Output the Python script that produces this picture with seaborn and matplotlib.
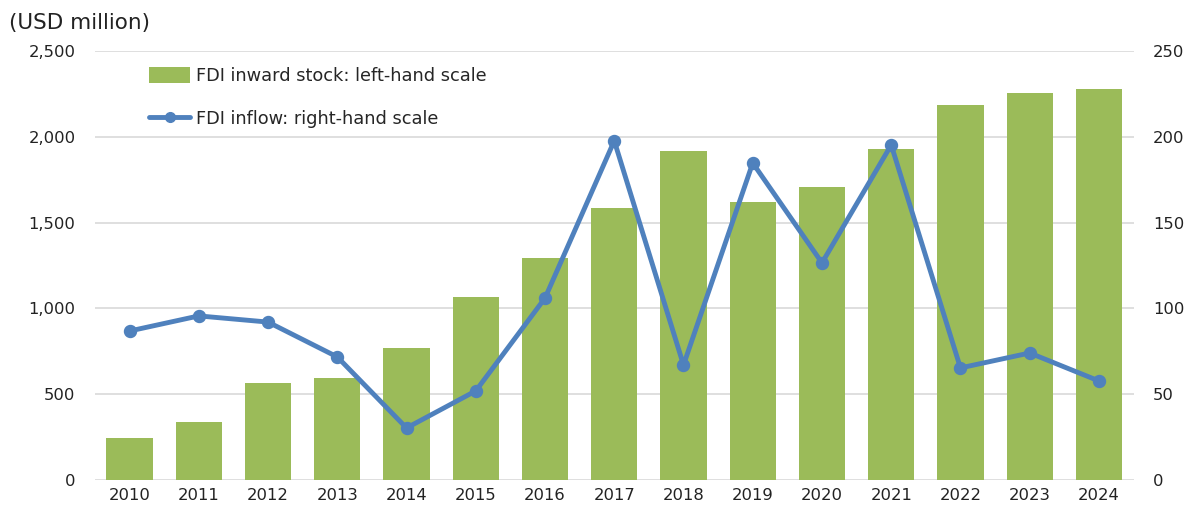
import matplotlib
matplotlib.use("Agg")
import matplotlib.pyplot as plt
import seaborn as sns
import pandas as pd
from matplotlib.patches import Patch
from matplotlib.lines import Line2D
from matplotlib.ticker import FuncFormatter, MultipleLocator

# data
years = ["2010", "2011", "2012", "2013", "2014", "2015", "2016", "2017",
         "2018", "2019", "2020", "2021", "2022", "2023", "2024"]
inward_stock = [245, 338, 565, 594, 769, 1066, 1294, 1585,
                1917, 1620, 1707, 1929, 2185, 2255, 2278]
inflow = [86.8, 95.6, 92.0, 71.7, 30.3, 51.9, 106.0, 197.6,
          67.0, 184.7, 126.5, 195.2, 65.3, 74.0, 57.7]

green = "#9BBB59"
blue = "#4F81BD"
grid_c = "#D9D9D9"

df = pd.DataFrame({"year": years, "stock": inward_stock, "inflow": inflow})

sns.set_style("white")
plt.rcParams["font.family"] = ["DejaVu Sans"]

fig = plt.figure(figsize=(11.84, 5.09), dpi=100)
ax = fig.add_axes([0.0802, 0.057, 0.8772, 0.843])

sns.barplot(data=df, x="year", y="stock", color=green, width=0.67,
            saturation=1, ax=ax, zorder=2, edgecolor="none")
ax.set_ylim(0, 2500)
ax.yaxis.set_major_locator(MultipleLocator(500))
ax.yaxis.set_major_formatter(FuncFormatter(lambda v, p: f"{int(v):,}"))
ax.grid(axis="y", color=grid_c, linewidth=1.2, zorder=0)
ax.set_axisbelow(True)
ax.set_xlabel("")
ax.set_ylabel("")
for s in ax.spines.values():
    s.set_visible(False)
ax.tick_params(axis="both", length=0, labelsize=11.8, colors="#222222")
ax.tick_params(axis="y", pad=14)
ax.tick_params(axis="x", pad=6)

ax2 = ax.twinx()
sns.pointplot(data=df, x="year", y="inflow", color=blue, ax=ax2,
              markers="o", markersize=7, linewidth=3.5)
ax2.set_ylim(0, 250)
ax2.set_xlim(ax.get_xlim())
ax2.yaxis.set_major_locator(MultipleLocator(50))
ax2.set_ylabel("")
ax2.set_xlabel("")
for s in ax2.spines.values():
    s.set_visible(False)
ax2.tick_params(axis="y", length=0, labelsize=11.8, colors="#222222", pad=14)

handles = [Patch(facecolor=green, edgecolor="none"),
           Line2D([0], [0], color=blue, linewidth=3.5, marker="o", markersize=7)]
labels = ["FDI inward stock: left-hand scale", "FDI inflow: right-hand scale"]
ax2.legend(handles, labels, loc="upper left", bbox_to_anchor=(0.037, 1.0),
           frameon=False, fontsize=12.8, labelspacing=1.4, handlelength=2.3,
           handletextpad=0.3, handleheight=1.0)

fig.text(0.008, 0.955, "(USD million)", fontsize=15.5, color="#222222",
         va="center", ha="left")

fig.savefig("out.png", dpi=100)
